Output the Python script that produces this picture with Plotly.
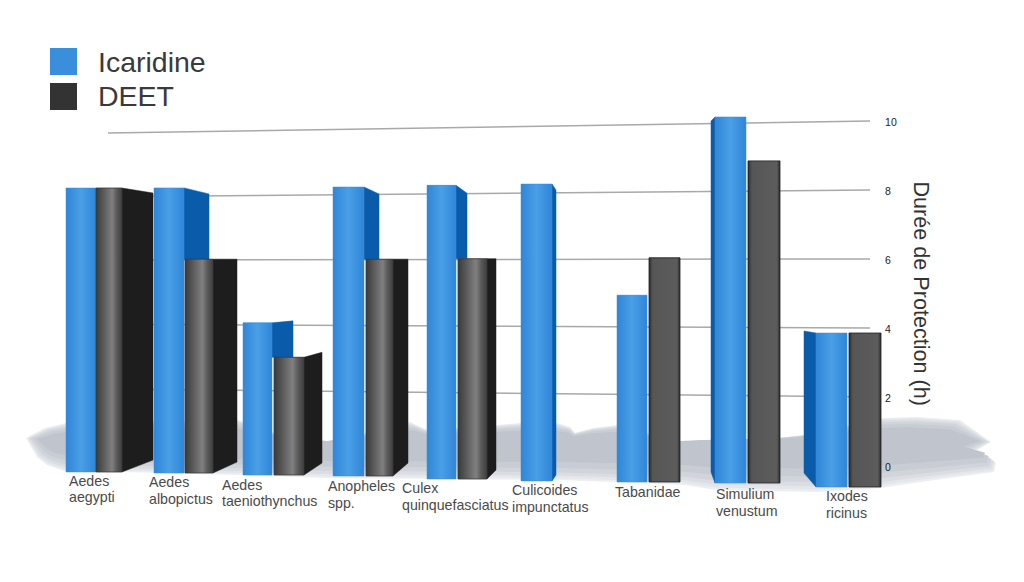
import plotly.graph_objects as go

species = ["Aedes<br>aegypti", "Aedes<br>albopictus", "Aedes<br>taeniothynchus", "Anopheles<br>spp.",
           "Culex<br>quinquefasciatus", "Culicoides<br>impunctatus", "Tabanidae", "Simulium<br>venustum",
           "Ixodes<br>ricinus"]
icaridine = [8, 8, 4.2, 8, 8, 8, 5, 10, 4]
deet = [8, 6, 3.25, 6, 6, None, 6, 8.8, 4]
y_ticks = [0, 2, 4, 6, 8, 10]
grid_left = [None, 2.26, 4.14, 6.0, 7.83, 9.68]  # where each grid line ends on the far left

# fake 3d: floor height and stretch of every group, bar edges in x
floor = [-0.145, -0.174, -0.232, -0.26, -0.348, -0.406, -0.435, -0.464, -0.58]
stretch = [1.029, 1.033, 1.05, 1.047, 1.064, 1.076, 1.083, 1.061, 1.116]
ica_left = [66, 154, 243, 333, 427, 521, 617, 715, 816]
ica_right = [96, 184, 272, 364, 456, 552, 647, 746, 847]
ica_depth = [None, 209, 293, 379, 467, 556, None, 711, 804]
ica_top_drop = [0, 6, -2, 7, 8, 6, 0, 4, -2]
ica_bottom_rise = [0, 11, 12, 13, 10, 6, 0, 11, 14]
deet_left = [96, 185, 274, 366, 458, None, 649, 748, 849]
deet_right = [122, 213, 304, 393, 487, None, 680, 780, 881]
deet_depth = [153, 237, 322, 408, 496, None, None, None, None]
deet_top_drop = [5, 0, -5, 0, 0, 0, 0, 0, 0]
deet_bottom_rise = [12, 11, 12, 13, 9, 0, 0, 0, 0]

label_x = [69, 149, 222, 328, 402, 512, 615, 716, 826]
label_y = [480.5, 482, 484.5, 486, 488, 490, 492, 494, 496]  # first line of each label

PX = 1 / 34.5  # one screen pixel in hours
PAGE = 8  # the page has a body margin


def y_of(p):
    return (467 - p) * PX


def to_paper(x, y):
    return f"{(x - PAGE) / 1016:.4f},{1 - (y - PAGE) / 574:.4f}"


ica_scale = [[0, "#2f86d8"], [0.5, "#4a9fe6"], [1, "#2f86d8"]]
deet_shiny = [[0, "#3a3a3a"], [0.62, "#808080"], [0.8, "#5a5a5a"], [1, "#3e3e3e"]]
deet_flat = [[0, "#2c2c2c"], [0.12, "#565656"], [0.9, "#5c5c5c"], [1, "#2c2c2c"]]

fig = go.Figure()

# shadow on the floor, same outline drawn smaller and darker to get a soft edge
shadow = [(26, 438), (45, 428), (66, 423), (140, 421), (238, 420), (270, 432), (323, 442), (345, 438), (410, 422),
          (427, 430), (497, 425), (520, 423), (557, 423), (570, 427), (575, 433), (593, 428), (617, 425),
          (684, 442), (710, 440), (779, 438), (804, 435), (850, 425), (882, 418), (917, 417), (960, 420),
          (991, 442), (974, 452), (996, 463), (994, 472), (950, 478), (900, 485), (881, 488), (817, 492),
          (717, 490), (684, 485), (613, 482), (557, 480), (325, 478), (237, 475), (123, 472), (67, 472),
          (47, 465), (37, 457)]
layers = [(1.0, "#eceef1"), (0.95, "#e3e6ea"), (0.89, "#dadde2"), (0.81, "#d1d5db"), (0.7, "#c8cdd4"), (0.55, "#c0c5cd")]
for shrink, col in layers:
    pts = [(510 + (x - 510) * (0.95 + 0.05 * shrink), 440 + (y - 440) * shrink) for x, y in shadow]
    path = "M " + " L ".join(to_paper(x, y) for x, y in pts) + " Z"
    fig.add_shape(type="path", path=path, xref="paper", yref="paper", layer="below",
                  fillcolor=col, line_width=0)

for tick, left in zip(y_ticks, grid_left):
    if left is None:
        continue
    fig.add_shape(type="line", x0=108, x1=870, y0=left, y1=tick + 0.03, layer="below",
                  line=dict(color="#a9a9a9", width=1.5))

ica_tops = [f + v * s for f, v, s in zip(floor, icaridine, stretch)]
deet_tops = [None if v is None else f + v * s for f, v, s in zip(floor, deet, stretch)]

fig.add_trace(go.Bar(name="Icaridine", x=[(a + b) / 2 for a, b in zip(ica_left, ica_right)],
                     y=[v * s for v, s in zip(icaridine, stretch)], base=floor,
                     width=[b - a for a, b in zip(ica_left, ica_right)],
                     marker=dict(color="#3a8fdc", line_width=0)))
keep = [i for i, v in enumerate(deet) if v is not None]
fig.add_trace(go.Bar(name="DEET", x=[(deet_left[i] + deet_right[i]) / 2 for i in keep],
                     y=[deet[i] * stretch[i] for i in keep], base=[floor[i] for i in keep],
                     width=[deet_right[i] - deet_left[i] for i in keep],
                     marker=dict(color="#555555", line_width=0)))


def poly(xs, ys, **kw):
    fig.add_trace(go.Scatter(x=xs + xs[:1], y=ys + ys[:1], mode="lines", fill="toself", hoverinfo="skip",
                             showlegend=False, **kw))


# side faces of the blue bars, they stop where the grey bar in front starts
for i in range(len(species)):
    if ica_depth[i] is None:
        continue
    edge = ica_left[i] if ica_depth[i] < ica_left[i] else ica_right[i]
    back_top = ica_tops[i] - ica_top_drop[i] * PX
    if edge == ica_right[i] and deet_tops[i] is not None:
        low_front = low_back = deet_tops[i]
    else:
        low_front = floor[i]
        low_back = floor[i] + ica_bottom_rise[i] * PX
    poly([edge, ica_depth[i], ica_depth[i], edge], [ica_tops[i], back_top, low_back, low_front],
         fillcolor="#0a5cab", line=dict(color="#0a5cab", width=0.5))

for i in range(len(species)):
    if deet_depth[i] is None:
        continue
    poly([deet_right[i], deet_depth[i], deet_depth[i], deet_right[i]],
         [deet_tops[i], deet_tops[i] - deet_top_drop[i] * PX, floor[i] + deet_bottom_rise[i] * PX, floor[i]],
         fillcolor="#1d1d1d", line=dict(color="#1d1d1d", width=0.5))

# shading on the front faces
for i in range(len(species)):
    poly([ica_left[i], ica_right[i], ica_right[i], ica_left[i]],
         [ica_tops[i], ica_tops[i], floor[i], floor[i]],
         fillgradient=dict(type="horizontal", colorscale=ica_scale), line=dict(color="#3a8fdc", width=0.5))
    if deet[i] is None:
        continue
    shiny = deet_depth[i] is not None
    poly([deet_left[i], deet_right[i], deet_right[i], deet_left[i]],
         [deet_tops[i], deet_tops[i], floor[i], floor[i]],
         fillgradient=dict(type="horizontal", colorscale=deet_shiny if shiny else deet_flat),
         line=dict(color="#3a3a3a" if shiny else "#222222", width=0.8))

# labels line by line, plotly's own line spacing is too wide here
for name, x, y in zip(species, label_x, label_y):
    for n, line in enumerate(name.split("<br>")):
        fig.add_annotation(text=line, x=x, y=y_of(y + n * 16.5), xanchor="left", yanchor="middle", align="left",
                           xshift=-2, showarrow=False, font=dict(size=14.2, color="#4a4a4a"))

fig.add_annotation(text="Durée de Protection (h)", x=921, y=y_of(293.5), textangle=90, showarrow=False,
                   font=dict(size=21.6, color="#333333"))

# legend
for top, col, name, nudge in [(48, "#3a8fdc", "Icaridine", 0), (83, "#333333", "DEET", -1)]:
    fig.add_shape(type="rect", x0=50, x1=77, y0=y_of(top), y1=y_of(top + 27), fillcolor=col, line_width=0)
    fig.add_annotation(text=name, x=98, y=y_of(top + 13.5 + nudge), xanchor="left", yanchor="middle", showarrow=False,
                       xshift=-2, font=dict(size=28.5, color="#3a3a3a"))

fig.update_layout(
    width=1016, height=574, margin=dict(l=0, r=0, t=0, b=0, autoexpand=False),
    plot_bgcolor="rgba(0,0,0,0)", paper_bgcolor="white", barmode="overlay", showlegend=False,
    font=dict(family="Liberation Sans", color="#333333"),
    xaxis=dict(range=[PAGE, 1024], visible=False),
    yaxis=dict(range=[y_of(582), y_of(PAGE)], side="right", anchor="free", position=(870 - PAGE) / 1016,
               tickvals=y_ticks, showgrid=False, zeroline=False, ticks="outside", ticklen=12,
               tickcolor="rgba(0,0,0,0)", tickfont=dict(size=10.5, color="#222222")),
)

fig.write_html("out.html")
